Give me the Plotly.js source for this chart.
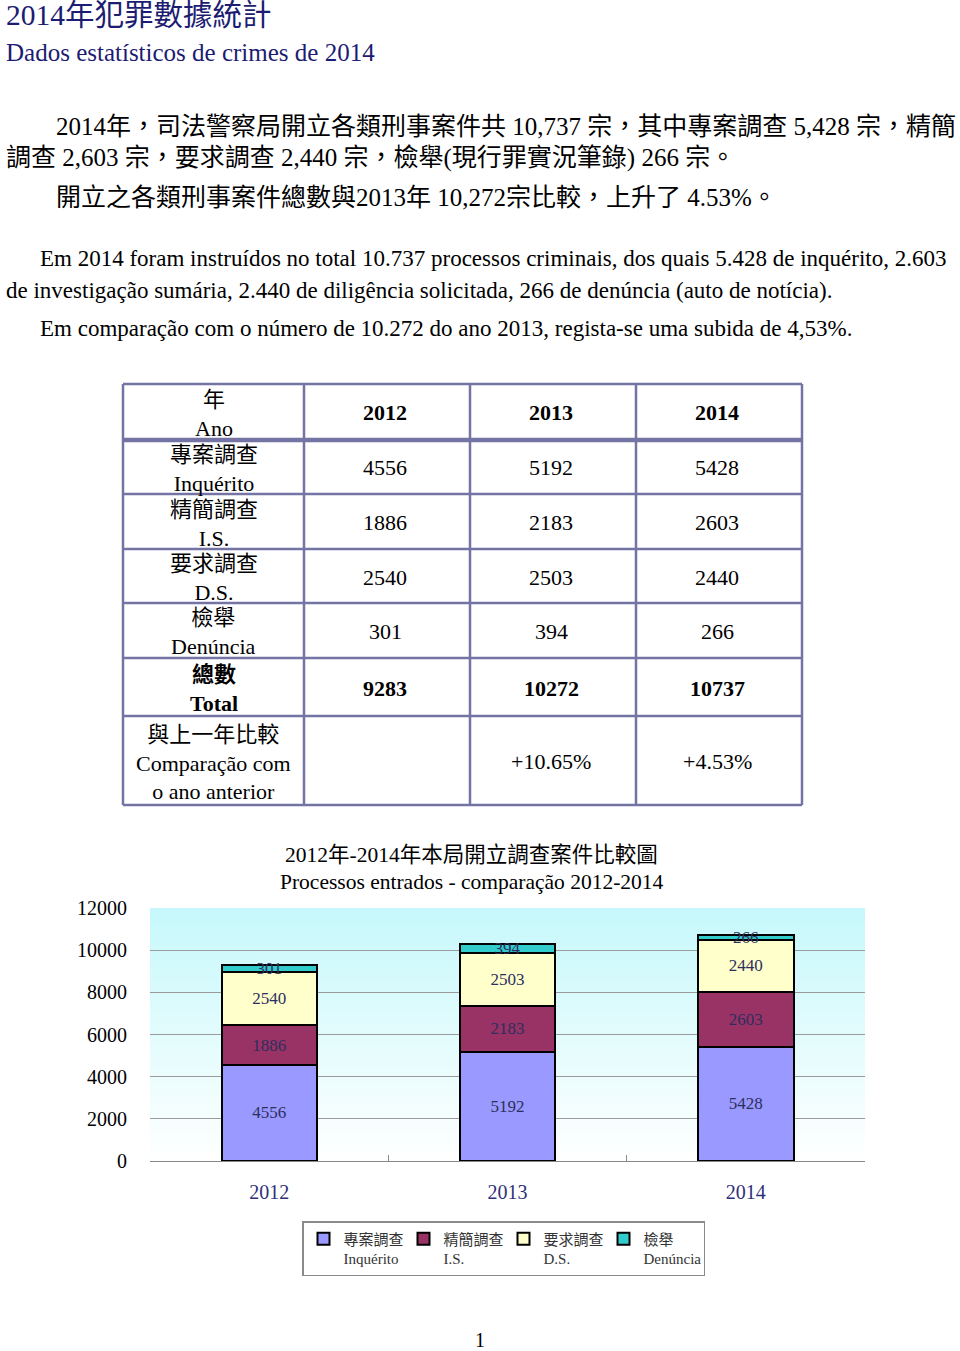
<!DOCTYPE html>
<html>
<head>
<meta charset="utf-8">
<script src="https://cdn.plot.ly/plotly-3.0.1.min.js"></script>
<style>
  body { margin: 0; background: #fff; }
  #page { width: 960px; height: 1351px; }
</style>
</head>
<body>
<div id="page"></div>
<script>
// ---- data ----
var years = ['2012', '2013', '2014'];
var inquerito = [4556, 5192, 5428];
var sumaria = [1886, 2183, 2603];
var diligencia = [2540, 2503, 2440];
var denuncia = [301, 394, 266];
var totals = [9283, 10272, 10737];
var changes = ['', '+10.65%', '+4.53%'];

var rowZh = ['年', '專案調查', '精簡調查', '要求調查', '檢舉', '總數', '與上一年比較'];
var rowPt = ['Ano', 'Inquérito', 'I.S.', 'D.S.', 'Denúncia', 'Total', 'Comparação com<br>o ano anterior'];

var legendNames = ['專案調查<br>Inquérito', '精簡調查<br>I.S.', '要求調查<br>D.S.', '檢舉<br>Denúncia'];

var titleZh = '2014年犯罪數據統計';
var titlePt = 'Dados estatísticos de crimes de 2014';
var paraLines = [
  '2014年，司法警察局開立各類刑事案件共 10,737 宗，其中專案調查 5,428 宗，精簡',
  '調查 2,603 宗，要求調查 2,440 宗，檢舉(現行罪實況筆錄) 266 宗。',
  '開立之各類刑事案件總數與2013年 10,272宗比較，上升了 4.53%。',
  'Em 2014 foram instruídos no total 10.737 processos criminais, dos quais 5.428 de inquérito, 2.603',
  'de investigação sumária, 2.440 de diligência solicitada, 266 de denúncia (auto de notícia).',
  'Em comparação com o número de 10.272 do ano 2013, regista-se uma subida de 4,53%.'
];
var chartTitle = ['2012年-2014年本局開立調查案件比較圖', 'Processos entrados - comparação 2012-2014'];

// ---- page helpers ----
var W = 960, H = 1351;
function px(x) { return x / W; }
function py(y) { return 1 - y / H; }
var SERIF = "'Liberation Serif', 'Noto Sans CJK TC', serif";
var NAVY = '#1c1c72';

var annotations = [];
var shapes = [];
function label(text, x, y, size, opts) {
  opts = opts || {};
  annotations.push({
    text: text, xref: 'paper', yref: 'paper', x: px(x), y: py(y),
    xanchor: opts.anchor || 'left', yanchor: 'middle', showarrow: false,
    align: opts.align || 'left',
    font: { family: SERIF, size: size, color: opts.color || '#000' }
  });
}

// heading + paragraphs
label(titleZh, 4, 15, 29.5, { color: NAVY });
label(titlePt, 4, 52, 25, { color: NAVY });
var paraX = [54, 4, 54, 38, 4, 38];
var paraY = [126, 158, 197, 258, 290, 329];
var paraSize = [25, 25, 25, 23, 23, 23];
paraLines.forEach(function (t, i) { label(t, paraX[i], paraY[i], paraSize[i]); });

// ---- table ----
var colEdges = [123, 304, 470, 636, 802];
var rowEdges = [384, 440, 494, 549, 603, 658, 716, 805];
var GRID = '#7474a4';
rowEdges.forEach(function (y, i) {
  shapes.push({ type: 'line', xref: 'paper', yref: 'paper',
    x0: px(colEdges[0]), x1: px(colEdges[4]), y0: py(y), y1: py(y),
    line: { color: GRID, width: i === 1 ? 4.5 : 2.5 } });
});
colEdges.forEach(function (x) {
  shapes.push({ type: 'line', xref: 'paper', yref: 'paper',
    x0: px(x), x1: px(x), y0: py(rowEdges[0]), y1: py(rowEdges[7]),
    line: { color: GRID, width: 2.5 } });
});
function colMid(c) { return (colEdges[c] + colEdges[c + 1]) / 2; }
function rowMid(r) { return (rowEdges[r] + rowEdges[r + 1]) / 2; }

var tableRows = [years, inquerito, sumaria, diligencia, denuncia, totals, changes];
rowZh.forEach(function (zh, r) {
  var t = zh + '<br>' + rowPt[r];
  if (r === 5) t = '<b>' + zh + '</b><br><b>' + rowPt[r] + '</b>';
  label(t, colMid(0), rowMid(r) + 2, 22, { anchor: 'center', align: 'center' });
  tableRows[r].forEach(function (v, c) {
    var s = String(v);
    if (r === 0 || r === 5) s = '<b>' + s + '</b>';
    label(s, colMid(c + 1) - 2, rowMid(r) + 1, 22, { anchor: 'center', align: 'center' });
  });
});

// ---- chart ----
label(chartTitle[0], 471, 855, 21.5, { anchor: 'center', align: 'center' });
label(chartTitle[1], 472, 882, 21.5, { anchor: 'center', align: 'center' });
label('1', 480, 1340, 20, { anchor: 'center' });

var plotL = 150, plotR = 865, plotT = 908, plotB = 1161;

var gradSvg = '<svg xmlns="http://www.w3.org/2000/svg" width="100" height="100" preserveAspectRatio="none">' +
  '<defs><linearGradient id="g" x1="0" y1="0" x2="0" y2="1">' +
  '<stop offset="0" stop-color="#c6f8fb"/><stop offset="1" stop-color="#ffffff"/></linearGradient></defs>' +
  '<rect width="100" height="100" fill="url(#g)"/></svg>';

var colors = ['#9999ff', '#993366', '#ffffcc', '#33cccc'];
var series = [inquerito, sumaria, diligencia, denuncia];
var data = series.map(function (vals, i) {
  return {
    type: 'bar', x: years, y: vals, name: legendNames[i],
    marker: { color: colors[i], line: { color: '#000', width: 2 } },
    text: vals.map(String), textposition: 'inside', insidetextanchor: 'middle',
    constraintext: 'none', cliponaxis: false,
    textfont: { family: SERIF, size: 17, color: '#2e2e5e' },
    hoverinfo: 'skip'
  };
});

var layout = {
  width: W, height: H, autosize: false,
  margin: { l: 0, r: 0, t: 0, b: 0 },
  paper_bgcolor: '#fff', plot_bgcolor: 'rgba(0,0,0,0)',
  barmode: 'stack', bargap: 0.6,
  showlegend: true,
  xaxis: {
    domain: [px(plotL), px(plotR)], type: 'category',
    showline: true, linecolor: '#8a8a8a', linewidth: 1,
    ticks: 'inside', tickson: 'boundaries', ticklen: 6, tickcolor: '#8a8a8a',
    showgrid: false, ticklabelstandoff: 13,
    tickfont: { family: SERIF, size: 20, color: '#30307a' }
  },
  yaxis: {
    domain: [py(plotB), py(plotT)], range: [0, 12000], dtick: 2000,
    tickformat: 'd',
    showgrid: true, gridcolor: '#9a9a9a', gridwidth: 1,
    zeroline: false, showline: false, ticks: '',
    ticklabelstandoff: 22,
    tickfont: { family: SERIF, size: 20, color: '#000' }
  },
  legend: {
    orientation: 'h', traceorder: 'normal',
    x: px(302), y: py(1221), xanchor: 'left', yanchor: 'top',
    bordercolor: '#8a8a8a', borderwidth: 1.5, bgcolor: '#fff',
    entrywidth: 55, entrywidthmode: 'pixels', valign: 'top',
    itemwidth: 30,
    font: { family: SERIF, size: 15, color: '#333' }
  },
  images: [{
    source: 'data:image/svg+xml;charset=utf-8,' + encodeURIComponent(gradSvg),
    xref: 'paper', yref: 'paper', x: px(plotL), y: py(plotT),
    sizex: (plotR - plotL) / W, sizey: (plotB - plotT) / H,
    xanchor: 'left', yanchor: 'top', sizing: 'stretch', layer: 'below'
  }],
  shapes: shapes,
  annotations: annotations
};

Plotly.newPlot('page', data, layout, { displayModeBar: false, staticPlot: true });
</script>
</body>
</html>
